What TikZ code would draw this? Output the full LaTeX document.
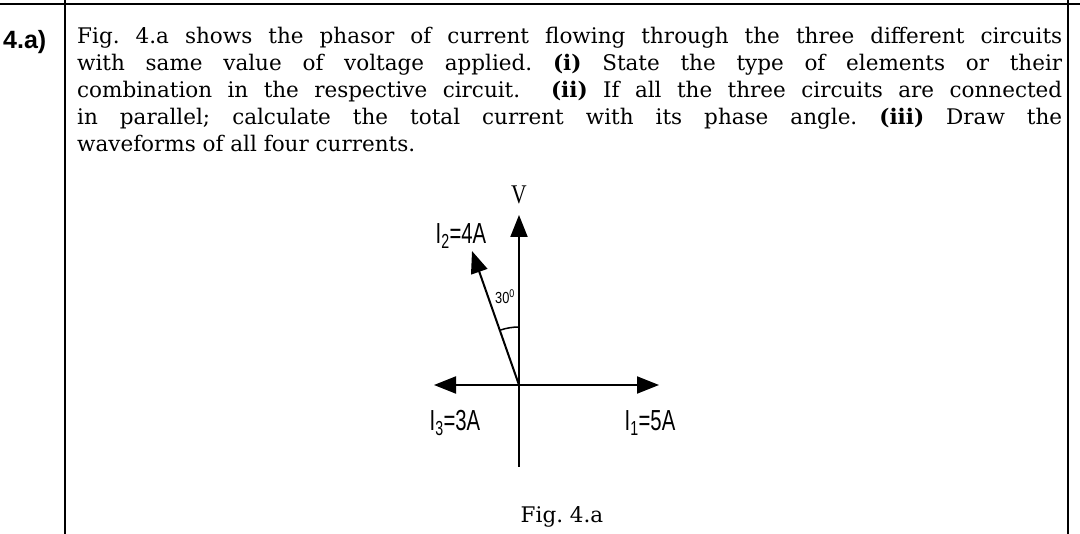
\documentclass[tikz,border=0pt]{standalone}
\usepackage{fontspec}
\setmainfont{DejaVu Serif}
\newfontfamily\lsans{Liberation Sans}
\newfontfamily\lserif{Liberation Serif}
\usetikzlibrary{arrows.meta}
\frenchspacing
\begin{document}
\begin{tikzpicture}[x=1pt,y=-1pt,
  rule/.style={line width=2.2pt},
  ph/.style={line width=2pt,-{Triangle[length=22pt,width=17pt]}},
  lab/.style={font=\lsans\fontsize{29}{29}\selectfont,inner sep=0pt}]
\useasboundingbox (0,0) rectangle (1080,534);
\draw[rule] (0,4) -- (1080,4);
\draw[rule] (65,0) -- (65,534);
\draw[rule] (1068,0) -- (1068,534);
\node[anchor=north west,inner sep=0pt,font=\lsans\bfseries\fontsize{25}{25}\selectfont] (num) at (3,30) {4.a)};
\node[anchor=north west,inner sep=0pt,text width=985pt,align=justify,
  font=\fontsize{21.5}{27}\selectfont] (txt) at (77,27)
 {Fig. 4.a shows the phasor of current flowing through the three different circuits\linebreak
 with same value of voltage applied. \textbf{(i)} State the type of elements or their\linebreak
 combination in the respective circuit.\ \ \textbf{(ii)} If all the three circuits are connected\linebreak
 in parallel; calculate the total current with its phase angle. \textbf{(iii)} Draw the\linebreak
 waveforms of all four currents.\par};
\coordinate (O) at (519,385);
\coordinate (Vt) at (519,215);
\coordinate (Bt) at (519,467);
\coordinate (I1t) at (659,385);
\coordinate (I3t) at (434,385);
\coordinate (I2t) at (472,251);
\draw[line width=2pt] (O) -- (Bt);
\draw[ph] (O) -- (Vt);
\draw[ph] (O) -- (I1t);
\draw[ph] (O) -- (I3t);
\draw[ph] (O) -- (I2t);
\draw[line width=1.5pt] (519,327) arc[start angle=-90,end angle=-109,radius=58];
\node[lab,font=\lserif\fontsize{27}{27}\selectfont] (V) at (519,195) {\scalebox{0.8}[1]{V}};
\node[lab] (l2) at (461,236) {\scalebox{0.7}[1]{I\textsubscript{2}=4A}};
\node[lab] (l3) at (455,423) {\scalebox{0.7}[1]{I\textsubscript{3}=3A}};
\node[lab] (l1) at (650,423) {\scalebox{0.7}[1]{I\textsubscript{1}=5A}};
\node[lab,font=\lsans\fontsize{16}{16}\selectfont] (ang) at (505,297) {\scalebox{0.8}[1]{30\textsuperscript{0}}};
\node[inner sep=0pt,font=\fontsize{21.5}{24}\selectfont] (cap) at (562,517) {Fig. 4.a};
\end{tikzpicture}
\end{document}
